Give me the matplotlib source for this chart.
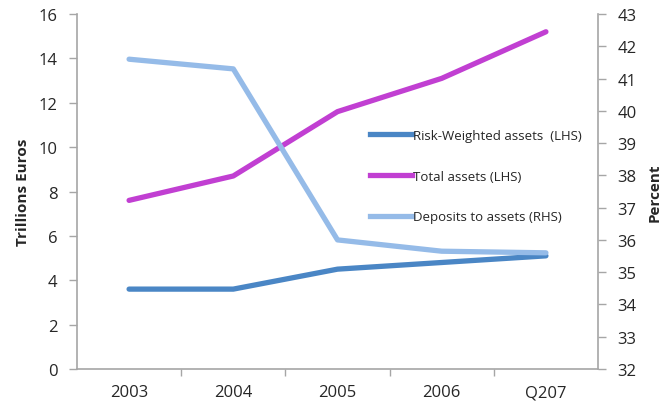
import matplotlib
matplotlib.use("Agg")
import matplotlib.pyplot as plt
from matplotlib.lines import Line2D

plt.rcParams['font.family'] = ['Open Sans', 'DejaVu Sans']

categories = ["2003", "2004", "2005", "2006", "Q207"]
risk_weighted = [3.6, 3.6, 4.5, 4.8, 5.1]
total_assets = [7.6, 8.7, 11.6, 13.1, 15.2]
deposits_to_assets = [41.6, 41.3, 36.0, 35.65, 35.6]

c_rwa = "#4a86c5"
c_tot = "#c13fd2"
c_dep = "#95bbe8"
grey = "#a6a6a6"
txt = "#262626"

fig = plt.figure(figsize=(6.67, 4.06), dpi=100)
ax = fig.add_axes([0.1154, 0.0887, 0.7812, 0.8743])
ax2 = ax.twinx()
ax.set_zorder(2)
ax2.set_zorder(3)
ax2.patch.set_visible(False)

x = list(range(len(categories)))
lw = 3.8
ax.plot(x, risk_weighted, color=c_rwa, lw=lw, solid_capstyle="round", zorder=3)
ax.plot(x, total_assets, color=c_tot, lw=lw, solid_capstyle="round", zorder=3)
ax2.plot(x, deposits_to_assets, color=c_dep, lw=lw, solid_capstyle="round", zorder=2)

ax.set_xlim(-0.5, len(categories) - 0.5)
ax.set_ylim(0, 16)
ax.set_yticks(range(0, 17, 2))
ax2.set_ylim(32, 43)
ax2.set_yticks(range(32, 44))

ax.set_xticks(x)
ax.set_xticklabels(categories)
ax.set_xticks([i + 0.5 for i in x[:-1]], minor=True)
ax.tick_params(axis="x", which="major", length=0, pad=11)
ax.tick_params(axis="x", which="minor", length=5, color=grey, width=1)

for a in (ax, ax2):
    for s in a.spines.values():
        s.set_visible(False)
    a.tick_params(axis="y", length=6, color=grey, width=1, labelsize=12, labelcolor=txt)
ax.tick_params(axis="x", labelsize=12, labelcolor=txt)
ax.spines["left"].set_visible(True)
ax.spines["bottom"].set_visible(True)
ax2.spines["right"].set_visible(True)
for s in (ax.spines["left"], ax.spines["bottom"], ax2.spines["right"]):
    s.set_color(grey)
    s.set_linewidth(1.2)
ax.tick_params(axis="y", pad=8)
ax2.tick_params(axis="y", pad=8)

ax.set_ylabel("Trillions Euros", fontsize=11, fontweight="bold", labelpad=6, color=txt)
ax2.set_ylabel("Percent", fontsize=11, fontweight="bold", labelpad=8, color=txt)

handles = [
    Line2D([], [], color=c_rwa, lw=lw),
    Line2D([], [], color=c_tot, lw=lw),
    Line2D([], [], color=c_dep, lw=lw),
]
labels = ["Risk-Weighted assets  (LHS)", "Total assets (LHS)", "Deposits to assets (RHS)"]
leg = ax2.legend(handles, labels, loc="upper left", bbox_to_anchor=(0.562, 0.676),
                 frameon=False, fontsize=9.5, handlelength=3.2, handletextpad=0.1,
                 labelspacing=2.1, borderaxespad=0, borderpad=0)
for t in leg.get_texts():
    t.set_color(txt)

fig.savefig("out.png", dpi=100)
